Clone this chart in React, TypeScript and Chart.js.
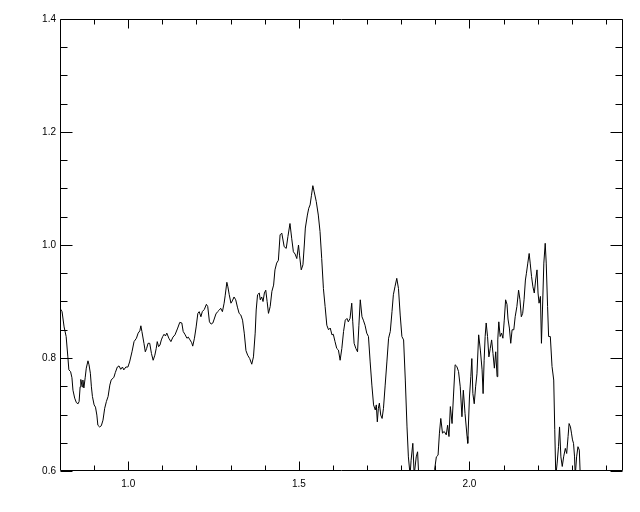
import React, { useEffect, useRef } from "react";
import { Chart, registerables } from "chart.js";

Chart.register(...registerables);

const wavelength = [
  0.800, 0.806, 0.812, 0.818, 0.823, 0.826, 0.831, 0.835, 0.838, 0.843,
  0.848, 0.853, 0.856, 0.859, 0.861, 0.865, 0.867, 0.870, 0.874, 0.877,
  0.882, 0.885, 0.889, 0.892, 0.895, 0.900, 0.904, 0.908, 0.911, 0.916,
  0.921, 0.926, 0.931, 0.936, 0.941, 0.946, 0.950, 0.958, 0.962, 0.968,
  0.973, 0.978, 0.983, 0.987, 0.993, 0.999, 1.004, 1.011, 1.017, 1.024,
  1.029, 1.034, 1.037, 1.040, 1.046, 1.050, 1.054, 1.058, 1.063, 1.068,
  1.073, 1.078, 1.082, 1.085, 1.089, 1.093, 1.097, 1.101, 1.105, 1.109,
  1.113, 1.119, 1.125, 1.131, 1.137, 1.145, 1.151, 1.157, 1.161, 1.167,
  1.172, 1.176, 1.181, 1.186, 1.189, 1.194, 1.199, 1.204, 1.208, 1.213,
  1.217, 1.223, 1.229, 1.233, 1.238, 1.243, 1.248, 1.252, 1.257, 1.262,
  1.267, 1.271, 1.276, 1.281, 1.284, 1.289, 1.292, 1.296, 1.301, 1.305,
  1.310, 1.315, 1.320, 1.325, 1.330, 1.335, 1.340, 1.345, 1.350, 1.356,
  1.362, 1.367, 1.372, 1.375, 1.379, 1.384, 1.387, 1.391, 1.395, 1.399,
  1.403, 1.407, 1.411, 1.416, 1.421, 1.426, 1.430, 1.435, 1.440, 1.445,
  1.450, 1.457, 1.463, 1.468, 1.474, 1.479, 1.484, 1.489, 1.494, 1.499,
  1.502, 1.507, 1.512, 1.516, 1.519, 1.525, 1.529, 1.533, 1.537, 1.541,
  1.545, 1.551, 1.557, 1.562, 1.567, 1.572, 1.577, 1.582, 1.587, 1.592,
  1.597, 1.601, 1.606, 1.611, 1.616, 1.621, 1.626, 1.631, 1.636, 1.641,
  1.645, 1.650, 1.655, 1.658, 1.662, 1.667, 1.672, 1.676, 1.680, 1.685,
  1.689, 1.694, 1.699, 1.704, 1.709, 1.714, 1.719, 1.724, 1.727, 1.730,
  1.733, 1.736, 1.740, 1.744, 1.748, 1.753, 1.758, 1.763, 1.768, 1.773,
  1.777, 1.782, 1.787, 1.792, 1.797, 1.802, 1.807, 1.812, 1.817, 1.821,
  1.826, 1.829, 1.834, 1.838, 1.844, 1.848, 1.852, 1.873, 1.895, 1.898,
  1.903, 1.908, 1.912, 1.916, 1.921, 1.926, 1.932, 1.936, 1.940, 1.944,
  1.949, 1.953, 1.958, 1.963, 1.968, 1.973, 1.978, 1.982, 1.987, 1.993,
  1.995, 2.000, 2.004, 2.007, 2.010, 2.014, 2.018, 2.022, 2.027, 2.032,
  2.037, 2.040, 2.043, 2.046, 2.049, 2.053, 2.057, 2.061, 2.065, 2.069,
  2.073, 2.077, 2.081, 2.083, 2.086, 2.090, 2.094, 2.098, 2.102, 2.106,
  2.110, 2.113, 2.117, 2.121, 2.125, 2.130, 2.134, 2.139, 2.144, 2.148,
  2.152, 2.156, 2.160, 2.164, 2.167, 2.171, 2.175, 2.178, 2.182, 2.186,
  2.190, 2.194, 2.198, 2.201, 2.204, 2.208, 2.211, 2.214, 2.218, 2.222,
  2.225, 2.229, 2.232, 2.237, 2.242, 2.247, 2.250, 2.253, 2.257, 2.261,
  2.264, 2.268, 2.272, 2.276, 2.281, 2.285, 2.289, 2.292, 2.296, 2.299,
  2.302, 2.305, 2.308, 2.310, 2.314, 2.318, 2.322, 2.325, 2.331,
];

const flux = [
  0.888, 0.882, 0.855, 0.838, 0.802, 0.779, 0.776, 0.765, 0.743, 0.729,
  0.721, 0.719, 0.723, 0.749, 0.762, 0.749, 0.761, 0.747, 0.766, 0.782,
  0.795, 0.788, 0.773, 0.749, 0.732, 0.717, 0.713, 0.699, 0.681, 0.678,
  0.680, 0.690, 0.711, 0.723, 0.732, 0.752, 0.761, 0.766, 0.774, 0.784,
  0.786, 0.780, 0.784, 0.779, 0.784, 0.784, 0.793, 0.811, 0.829, 0.835,
  0.844, 0.848, 0.857, 0.847, 0.826, 0.811, 0.817, 0.826, 0.826, 0.808,
  0.796, 0.805, 0.817, 0.829, 0.820, 0.823, 0.832, 0.838, 0.842, 0.839,
  0.844, 0.835, 0.829, 0.837, 0.841, 0.853, 0.863, 0.862, 0.847, 0.841,
  0.835, 0.837, 0.832, 0.827, 0.821, 0.835, 0.855, 0.879, 0.882, 0.873,
  0.882, 0.886, 0.895, 0.891, 0.864, 0.860, 0.862, 0.869, 0.878, 0.882,
  0.885, 0.888, 0.882, 0.897, 0.910, 0.934, 0.926, 0.912, 0.897, 0.901,
  0.908, 0.903, 0.890, 0.879, 0.876, 0.867, 0.844, 0.813, 0.805, 0.799,
  0.789, 0.802, 0.844, 0.885, 0.912, 0.915, 0.903, 0.908, 0.900, 0.915,
  0.920, 0.900, 0.879, 0.891, 0.918, 0.929, 0.956, 0.968, 0.973, 1.018,
  1.021, 0.997, 0.994, 1.015, 1.038, 1.012, 0.988, 0.984, 0.976, 1.000,
  0.982, 0.956, 0.965, 1.000, 1.030, 1.053, 1.065, 1.071, 1.088, 1.105,
  1.094, 1.077, 1.053, 1.024, 0.976, 0.923, 0.891, 0.858, 0.850, 0.853,
  0.841, 0.842, 0.829, 0.817, 0.814, 0.796, 0.817, 0.847, 0.867, 0.870,
  0.864, 0.870, 0.897, 0.864, 0.826, 0.817, 0.811, 0.858, 0.903, 0.873,
  0.867, 0.858, 0.844, 0.838, 0.793, 0.752, 0.717, 0.708, 0.717, 0.687,
  0.711, 0.720, 0.699, 0.693, 0.711, 0.752, 0.793, 0.835, 0.847, 0.882,
  0.912, 0.927, 0.941, 0.923, 0.876, 0.838, 0.832, 0.761, 0.678, 0.625,
  0.593, 0.619, 0.649, 0.593, 0.625, 0.634, 0.584, 0.549, 0.584, 0.603,
  0.625, 0.628, 0.667, 0.693, 0.667, 0.670, 0.664, 0.681, 0.661, 0.714,
  0.684, 0.731, 0.788, 0.785, 0.776, 0.749, 0.696, 0.743, 0.702, 0.661,
  0.649, 0.731, 0.767, 0.799, 0.737, 0.719, 0.749, 0.772, 0.841, 0.814,
  0.779, 0.737, 0.796, 0.838, 0.862, 0.838, 0.802, 0.817, 0.832, 0.808,
  0.782, 0.811, 0.767, 0.832, 0.864, 0.838, 0.844, 0.835, 0.867, 0.903,
  0.895, 0.869, 0.853, 0.826, 0.850, 0.850, 0.873, 0.891, 0.920, 0.903,
  0.873, 0.879, 0.903, 0.938, 0.950, 0.968, 0.985, 0.968, 0.944, 0.926,
  0.915, 0.938, 0.956, 0.915, 0.897, 0.909, 0.826, 0.885, 0.968, 1.003,
  0.968, 0.891, 0.838, 0.838, 0.785, 0.761, 0.673, 0.591, 0.614, 0.643,
  0.678, 0.625, 0.608, 0.625, 0.640, 0.631, 0.661, 0.684, 0.678, 0.667,
  0.655, 0.649, 0.625, 0.591, 0.625, 0.643, 0.637, 0.588, 0.550,
];

const xMin = 0.8;
const xMax = 2.45;
const yMin = 0.6;
const yMax = 1.4;
const xMajorTicks = [1.0, 1.5, 2.0];
const xMinorTicks = [0.9, 1.1, 1.2, 1.3, 1.4, 1.6, 1.7, 1.8, 1.9, 2.1, 2.2, 2.3, 2.4];
const yMajorTicks = [0.6, 0.8, 1.0, 1.2, 1.4];
const yMinorTicks = [0.65, 0.7, 0.75, 0.85, 0.9, 0.95, 1.05, 1.1, 1.15, 1.25, 1.3, 1.35];

const frameTicks = {
  id: "frameTicks",
  afterDatasetsDraw(chart: any) {
    const { ctx, chartArea: a, scales } = chart;
    const xs = scales.x;
    const ys = scales.y;
    const L = Math.round(a.left) + 0.5;
    const R = Math.round(a.right) - 0.5;
    const T = Math.round(a.top) + 0.5;
    const B = Math.round(a.bottom) - 0.5;
    ctx.save();
    ctx.strokeStyle = "#000";
    ctx.lineWidth = 1;
    ctx.beginPath();
    ctx.rect(L, T, R - L, B - T);
    const xt = (v: number, len: number) => {
      const p = Math.round(xs.getPixelForValue(v)) + 0.5;
      ctx.moveTo(p, B);
      ctx.lineTo(p, B - len);
      ctx.moveTo(p, T);
      ctx.lineTo(p, T + len);
    };
    const yt = (v: number, len: number) => {
      const p = Math.round(ys.getPixelForValue(v)) + 0.5;
      ctx.moveTo(L, p);
      ctx.lineTo(L + len, p);
      ctx.moveTo(R, p);
      ctx.lineTo(R - len, p);
    };
    xMajorTicks.forEach((v) => xt(v, 9));
    xMinorTicks.forEach((v) => xt(v, 5));
    yMajorTicks.forEach((v) => yt(v, 12));
    yMinorTicks.forEach((v) => yt(v, 7));
    ctx.stroke();
    ctx.restore();
  },
};

export default function App() {
  const ref = useRef<HTMLCanvasElement | null>(null);

  useEffect(() => {
    if (!ref.current) return;
    const points = wavelength.map((x, i) => ({ x, y: flux[i] }));
    const font = { family: "'Liberation Sans', Arial, sans-serif", size: 10 };
    const chart = new Chart(ref.current, {
      type: "line",
      data: {
        datasets: [
          {
            data: points,
            borderColor: "#000",
            borderWidth: 1,
            pointRadius: 0,
            tension: 0,
            fill: false,
          },
        ],
      },
      options: {
        animation: false,
        responsive: false,
        maintainAspectRatio: false,
        events: [],
        layout: { padding: { left: 8, top: 19, right: 17, bottom: 0 } },
        plugins: { legend: { display: false }, tooltip: { enabled: false } },
        scales: {
          x: {
            type: "linear",
            min: xMin,
            max: xMax,
            afterBuildTicks: (s: any) => {
              s.ticks = xMajorTicks.map((value) => ({ value }));
            },
            afterFit: (s: any) => {
              s.height = 41;
            },
            grid: { display: false, drawTicks: false },
            border: { display: false },
            ticks: {
              color: "#000",
              font,
              padding: 7,
              maxRotation: 0,
              callback: (v: any) => Number(v).toFixed(1),
            },
          },
          y: {
            type: "linear",
            min: yMin,
            max: yMax,
            afterBuildTicks: (s: any) => {
              s.ticks = yMajorTicks.map((value) => ({ value }));
            },
            afterFit: (s: any) => {
              s.width = 52;
            },
            grid: { display: false, drawTicks: false },
            border: { display: false },
            ticks: {
              color: "#000",
              font,
              padding: 4,
              callback: (v: any) => Number(v).toFixed(1),
            },
          },
        },
      },
      plugins: [frameTicks],
    });
    return () => chart.destroy();
  }, []);

  return (
    <div style={{ position: "absolute", left: 0, top: 0, width: 640, height: 512, background: "#fff" }}>
      <canvas ref={ref} width={640} height={512} style={{ display: "block" }} />
    </div>
  );
}
